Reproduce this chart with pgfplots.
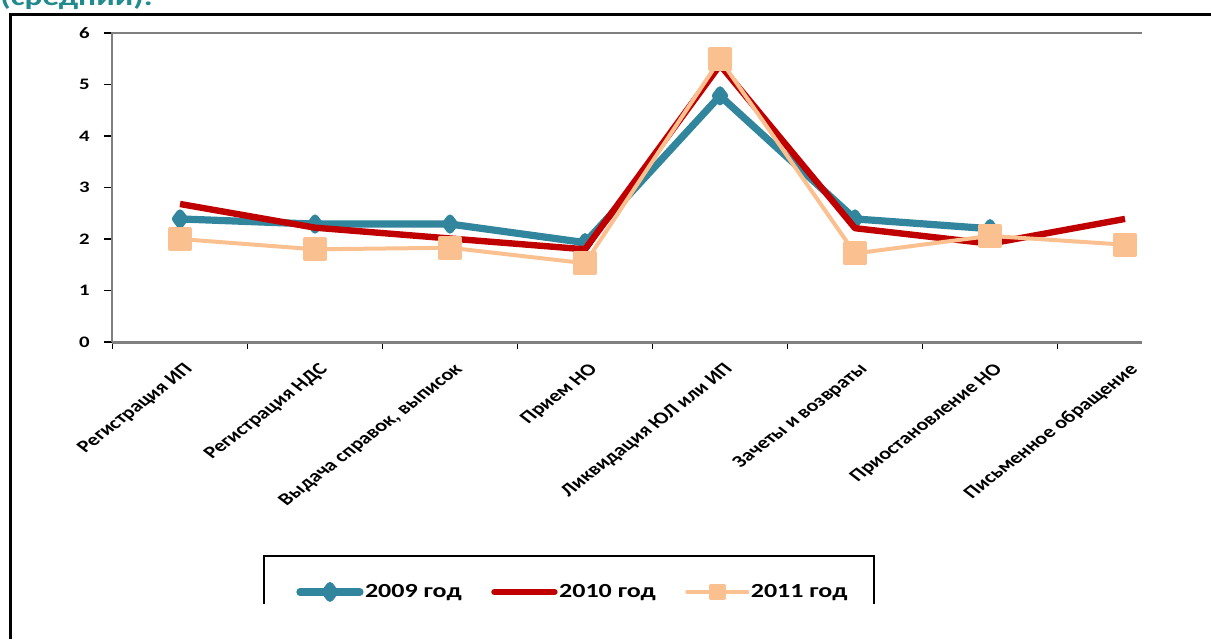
\documentclass[border=0pt]{standalone}
\usepackage{pgfplots}
\pgfplotsset{compat=1.18}
\usepackage{fontspec}
\setmainfont{Carlito}
\definecolor{c09}{RGB}{49,133,156}
\definecolor{c10}{RGB}{192,0,0}
\definecolor{c11}{RGB}{250,192,144}
\definecolor{ttl}{RGB}{33,138,140}
\definecolor{axg}{RGB}{128,128,128}
\newcommand\sx[1]{\scalebox{1.3}[1]{#1}}
\begin{document}
\begin{tikzpicture}
\useasboundingbox (0,0) rectangle (605.5pt,319.5pt);
\clip (0,0) rectangle (605.5pt,319.5pt);
\node[anchor=base west, inner sep=0pt, text=ttl, font=\bfseries\fontsize{12.8pt}{14pt}\selectfont] at (0pt,316.5pt) {\sx{(средний).}};
\draw[black, line width=1.5pt] (5.25pt,0) -- (5.25pt,312.25pt) -- (606pt,312.25pt);
\begin{scope}
\clip (0,18pt) rectangle (605.5pt,319.5pt);
\begin{axis}[
  scale only axis, width=515pt, height=154.5pt,
  at={(56pt,148.5pt)}, anchor=south west,
  xmin=-0.504, xmax=7.126, ymin=0, ymax=6,
  clip mode=individual,
  axis line style={draw=none},
  xtick={0,...,7}, minor xtick={-0.5,0.5,...,6.5},
  ytick={0,...,6},
  tick align=outside, tick pos=left,
  major tick length=4pt, minor tick length=3.5pt,
  tick style={black, line width=0.75pt},
  major x tick style={draw=none},
  /pgf/number format/assume math mode=true,
  yticklabel={\sx{\pgfmathprintnumber{\tick}}},
  yticklabel style={font=\bfseries\fontsize{8pt}{9pt}\selectfont, anchor=east, inner sep=0pt, xshift=-7pt},
  xticklabels={{Регистрация ИП},{Регистрация НДС},{Выдача справок, выписок},{Прием НО},{Ликвидация ЮЛ или ИП},{Зачеты и возвраты},{Приостановление НО},{Письменное обращение}},
  xticklabel style={font=\bfseries\fontsize{8.5pt}{9pt}\selectfont, anchor=north east, inner sep=0pt, xshift=1.5pt, yshift=-6pt, cm={0.919,0.707,-0.919,0.707,(0,0)}},
  legend style={draw=none, fill=none, at={(0.1786,-0.809)}, anchor=west, legend columns=3, inner sep=0pt,
    font=\bfseries\fontsize{10pt}{12pt}\selectfont, nodes={inner sep=0.75pt},
    /tikz/every even column/.append style={column sep=14pt}},
  legend cell align=left,
  legend image code/.code={\draw[#1, line cap=round, mark size=3.2pt, mark repeat=2, mark phase=2] plot coordinates {(0pt,0pt)(15pt,0pt)(30pt,0pt)};},
]
\draw[axg, line width=1pt] (rel axis cs:0,0) -- (rel axis cs:0,1) -- (rel axis cs:1,1);
\draw[axg, line width=1.5pt] (rel axis cs:0,0) -- (rel axis cs:1,0);
\addplot[c09, line width=3.6pt, line join=round, mark=diamond*, mark size=3pt, mark options={solid}]
  coordinates {(0,2.39)(1,2.29)(2,2.29)(3,1.93)(4,4.78)(5,2.39)(6,2.2)};
\addlegendentry{\sx{2009 год}}
\addplot[c10, line width=3.2pt, line join=round, mark=none]
  coordinates {(0,2.68)(1,2.22)(2,2.01)(3,1.8)(4,5.38)(5,2.21)(6,1.91)(7,2.39)};
\addlegendentry{\sx{2010 год}}
\addplot[c11, line width=2pt, line join=round, mark=square*, mark size=5pt, mark options={solid}]
  coordinates {(0,2.0)(1,1.8)(2,1.83)(3,1.53)(4,5.49)(5,1.72)(6,2.06)(7,1.89)};
\addlegendentry{\sx{2011 год}}
\draw[black, line width=1.2pt] (axis description cs:0.1476,-0.6926) rectangle (axis description cs:0.7398,-0.90);
\end{axis}
\end{scope}
\end{tikzpicture}
\end{document}
